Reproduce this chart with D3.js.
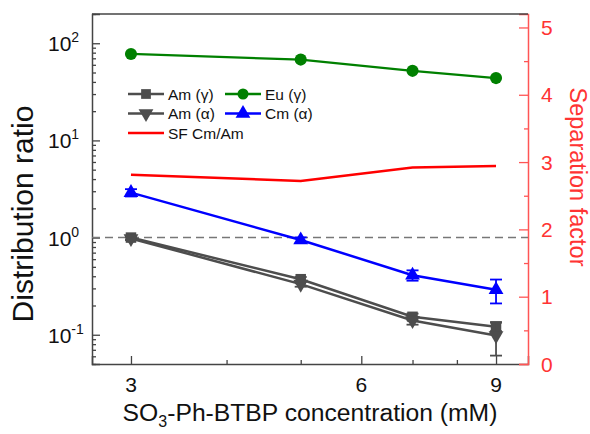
<!DOCTYPE html>
<html><head><meta charset="utf-8">
<script src="https://cdn.jsdelivr.net/npm/d3@7"></script>
<style>body{margin:0;background:#fff}svg{display:block;font-family:"Liberation Sans",Arial,sans-serif}</style>
</head><body><svg id="c" width="590" height="434"></svg>
<script>
// ---- data ----
const concentrations = [3, 5, 7, 9];
const amGamma = [1.0, 0.373, 0.153, 0.121];
const amGammaErr = [0.04, 0.02, 0.012, 0.012];
const amAlpha = [0.98, 0.332, 0.14, 0.098];
const amAlphaErr = [0.04, 0.02, 0.013, 0.037];
const euGamma = [77.6, 67.9, 52.0, 43.8];
const cmAlpha = [2.9, 0.945, 0.41, 0.29];
const cmAlphaErr = [0.25, 0.06, 0.05, 0.08];
const sfCmAm = [2.81, 2.72, 2.92, 2.94];
const xTicks = [3, 6, 9];
const xMinorTicks = [4, 5, 7, 8];
const yTickExps = [-1, 0, 1, 2];
const rightTicks = [0, 1, 2, 3, 4, 5];
const rightMinorTicks = [0.5, 1.5, 2.5, 3.5, 4.5];
const referenceLine = 1;

const svg = d3.select('#c');
const L = 92, R = 528, T = 14, B = 364;
const x = d3.scaleLog().domain([2.668, 9.909]).range([L, R]);
const y = d3.scaleLog().domain([0.05, 200]).range([B, T]);
const y2 = d3.scaleLinear().domain([0, 5.2]).range([B, T]);

const axisCol = '#444';
const yMinor = [];
for (let e = -2; e <= 2; e++) for (let m = 2; m <= 9; m++) { const v = m * Math.pow(10, e); if (v >= 0.05 && v <= 200) yMinor.push(v); }

// left axis
svg.append('g').attr('transform', `translate(${L},0)`)
  .call(d3.axisLeft(y).tickValues(yTickExps.map(e => Math.pow(10, e))).tickSize(-8).tickFormat(() => ''));
svg.append('g').attr('transform', `translate(${L},0)`)
  .call(d3.axisLeft(y).tickValues(yMinor).tickSize(-4).tickFormat(() => '')).select('.domain').remove();
// bottom axis
svg.append('g').attr('transform', `translate(0,${B})`)
  .call(d3.axisBottom(x).tickValues(xTicks).tickSize(-8).tickFormat(() => ''));
svg.append('g').attr('transform', `translate(0,${B})`)
  .call(d3.axisBottom(x).tickValues(xMinorTicks).tickSize(-4).tickFormat(() => '')).select('.domain').remove();
svg.selectAll('.domain, .tick line').attr('stroke', axisCol);
// right axis
const rc = '#ff5555';
svg.append('g').attr('transform', `translate(${R},0)`)
  .call(d3.axisRight(y2).tickValues(rightTicks).tickSize(-9).tickFormat(() => ''))
  .call(g => g.selectAll('line,path').attr('stroke', rc));
svg.append('g').attr('transform', `translate(${R},0)`)
  .call(d3.axisRight(y2).tickValues(rightMinorTicks).tickSize(-4).tickFormat(() => ''))
  .call(g => g.selectAll('line').attr('stroke', rc)).select('.domain').remove();
// top border
svg.append('line').attr('x1', L).attr('x2', R).attr('y1', T).attr('y2', T).attr('stroke', axisCol).attr('stroke-width', 1.5);
svg.selectAll('.domain').attr('stroke-width', 1.5);
svg.selectAll('.tick line').attr('stroke-width', 1.3);

// y tick labels
yTickExps.forEach(e => {
  const t = svg.append('text').attr('x', 48).attr('y', y(Math.pow(10, e)) + 8).attr('font-size', 21).attr('fill', '#111');
  t.append('tspan').text('10');
  t.append('tspan').attr('font-size', 14).attr('dy', -9).text(e);
});
// x tick labels
xTicks.forEach(v => svg.append('text').attr('x', x(v)).attr('y', 392).attr('text-anchor', 'middle').attr('font-size', 21).attr('fill', '#111').text(v));
// right tick labels
rightTicks.forEach(v => svg.append('text').attr('x', 541).attr('y', y2(v) + 7.5).attr('font-size', 21).attr('fill', '#ff3333').text(v));

// titles
svg.append('text').attr('transform', `translate(33,214) rotate(-90)`).attr('text-anchor', 'middle').attr('font-size', 30).attr('fill', '#111').text('Distribution ratio');
svg.append('text').attr('transform', `translate(570,177) rotate(90)`).attr('text-anchor', 'middle').attr('font-size', 23.5).attr('fill', '#ff3333').text('Separation factor');
const xt = svg.append('text').attr('x', 310).attr('y', 421).attr('text-anchor', 'middle').attr('font-size', 24.7).attr('fill', '#111');
xt.append('tspan').text('SO');
xt.append('tspan').attr('font-size', 16).attr('dy', 6).text('3');
xt.append('tspan').attr('dy', -6).text('-Ph-BTBP concentration (mM)');

// reference dashed line
svg.append('line').attr('x1', L).attr('x2', R).attr('y1', y(referenceLine)).attr('y2', y(referenceLine))
  .attr('stroke', '#777').attr('stroke-width', 1.5).attr('stroke-dasharray', '8,5');

// series
const gray = '#4d4d4d', green = '#008000', blue = '#0000ff', red = '#ff0000';
function series(vals, errs, color, sym, rot, size, lw) {
  const pts = concentrations.map((c, i) => [x(c), y(vals[i])]);
  svg.append('path').attr('d', d3.line()(pts)).attr('fill', 'none').attr('stroke', color).attr('stroke-width', lw);
  if (errs) concentrations.forEach((c, i) => {
    const y1 = y(vals[i] + errs[i]), y0 = y(Math.max(vals[i] - errs[i], 0.051));
    const g = svg.append('g').attr('stroke', color).attr('stroke-width', 1.8);
    g.append('line').attr('x1', x(c)).attr('x2', x(c)).attr('y1', y0).attr('y2', y1);
    g.append('line').attr('x1', x(c) - 6).attr('x2', x(c) + 6).attr('y1', y0).attr('y2', y0);
    g.append('line').attr('x1', x(c) - 6).attr('x2', x(c) + 6).attr('y1', y1).attr('y2', y1);
  });
  concentrations.forEach((c, i) => svg.append('path').attr('d', d3.symbol().type(sym).size(size)())
    .attr('transform', `translate(${x(c)},${y(vals[i])}) rotate(${rot})`).attr('fill', color));
}
series(amGamma, amGammaErr, gray, d3.symbolSquare, 0, 110, 2.5);
series(amAlpha, amAlphaErr, gray, d3.symbolTriangle, 180, 95, 2.5);
series(euGamma, null, green, d3.symbolCircle, 0, 115, 2.2);
series(cmAlpha, cmAlphaErr, blue, d3.symbolTriangle, 0, 95, 2.5);
svg.append('path').attr('d', d3.line()(concentrations.map((c, i) => [x(c), y2(sfCmAm[i])])))
  .attr('fill', 'none').attr('stroke', red).attr('stroke-width', 2.5);

// legend
const legend = [
  {label: 'Am (γ)', color: gray, sym: d3.symbolSquare, rot: 0, col: 0, row: 0},
  {label: 'Eu (γ)', color: green, sym: d3.symbolCircle, rot: 0, col: 1, row: 0},
  {label: 'Am (α)', color: gray, sym: d3.symbolTriangle, rot: 180, col: 0, row: 1},
  {label: 'Cm (α)', color: blue, sym: d3.symbolTriangle, rot: 0, col: 1, row: 1},
  {label: 'SF Cm/Am', color: red, sym: null, rot: 0, col: 0, row: 2}
];
const colX = [128, 225], rowY = [94, 113.5, 133];
legend.forEach(d => {
  const lx = colX[d.col], ly = rowY[d.row];
  svg.append('line').attr('x1', lx).attr('x2', lx + 36).attr('y1', ly).attr('y2', ly).attr('stroke', d.color).attr('stroke-width', 2.5);
  if (d.sym) svg.append('path').attr('d', d3.symbol().type(d.sym).size(95)()).attr('transform', `translate(${lx + 18},${ly}) rotate(${d.rot})`).attr('fill', d.color);
  svg.append('text').attr('x', lx + 40).attr('y', ly + 5.5).attr('font-size', 15.5).attr('fill', '#111').text(d.label);
});
</script></body></html>
